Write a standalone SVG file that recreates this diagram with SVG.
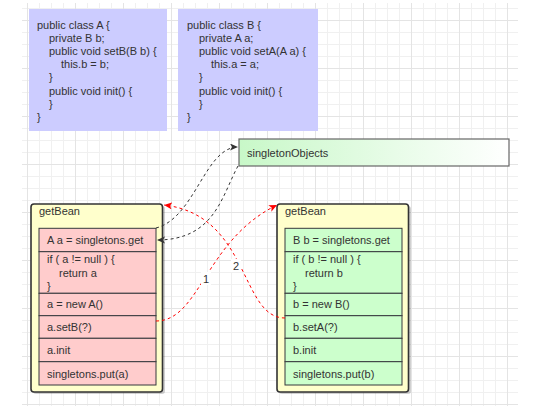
<svg xmlns="http://www.w3.org/2000/svg" width="533" height="406" viewBox="0 0 533 406">
  <style>
    text { font-family: "Liberation Sans", Arial, sans-serif; font-size: 11px; fill: #333333; }
    .code { fill: #ccccff; }
    .outer { fill: #ffffcc; stroke: #333333; stroke-width: 1.6; }
    .shadow { fill: #000000; opacity: 0.18; }
    .rowA { fill: #ffcccc; stroke: #36393d; stroke-width: 1; }
    .rowB { fill: #ccffcc; stroke: #36393d; stroke-width: 1; }
    .dash-k { fill: none; stroke: #333333; stroke-width: 1; stroke-dasharray: 3 3; }
    .dash-r { fill: none; stroke: #ff0000; stroke-width: 1; stroke-dasharray: 3 3; }
    .lbl { font-size: 11px; fill: #333333; }
  </style>
  <defs>
    <pattern id="grid" patternUnits="userSpaceOnUse" x="27" y="20" width="48" height="48">
      <path d="M12.5,0 V48 M24.5,0 V48 M36.5,0 V48 M0,12.5 H48 M0,24.5 H48 M0,36.5 H48" stroke="#f0f0f0" stroke-width="1" fill="none"/>
      <path d="M0.5,0 V48 M0,0.5 H48" stroke="#e4e4e4" stroke-width="1" fill="none"/>
    </pattern>
    <linearGradient id="greenFade" x1="0" y1="0" x2="1" y2="0">
      <stop offset="0" stop-color="#c8f8c8"/>
      <stop offset="1" stop-color="#ffffff"/>
    </linearGradient>
    <marker id="arrowK" markerUnits="userSpaceOnUse" markerWidth="10" markerHeight="8" refX="8" refY="3.5" orient="auto">
      <path d="M0,0 L8,3.5 L0,7 L2,3.5 z" fill="#333333"/>
    </marker>
    <marker id="arrowR" markerUnits="userSpaceOnUse" markerWidth="10" markerHeight="8" refX="8" refY="3.5" orient="auto">
      <path d="M0,0 L8,3.5 L0,7 L2,3.5 z" fill="#ff0000"/>
    </marker>
  </defs>

  <!-- background grid -->
  <rect x="22" y="3" width="496" height="403" fill="url(#grid)"/>

  <!-- class A source -->
  <g id="classA">
    <rect class="code" x="29" y="9" width="138" height="122"/>
    <text x="37" y="29">public class A {</text>
    <text x="49" y="42.1">private B b;</text>
    <text x="49" y="55.2">public void setB(B b) {</text>
    <text x="61" y="68.3">this.b = b;</text>
    <text x="49" y="81.4">}</text>
    <text x="49" y="94.5">public void init() {</text>
    <text x="49" y="107.6">}</text>
    <text x="37" y="120.7">}</text>
  </g>

  <!-- class B source -->
  <g id="classB">
    <rect class="code" x="178" y="9" width="140" height="122"/>
    <text x="187" y="29">public class B {</text>
    <text x="199" y="42.1">private A a;</text>
    <text x="199" y="55.2">public void setA(A a) {</text>
    <text x="211" y="68.3">this.a = a;</text>
    <text x="199" y="81.4">}</text>
    <text x="199" y="94.5">public void init() {</text>
    <text x="199" y="107.6">}</text>
    <text x="187" y="120.7">}</text>
  </g>

  <!-- cache -->
  <g id="singletonObjects">
    <rect x="239" y="139" width="270" height="27" fill="url(#greenFade)" stroke="#666666" stroke-width="1.2"/>
    <text x="247" y="157">singletonObjects</text>
  </g>

  <!-- getBean for A -->
  <g id="getBeanA">
    <rect class="shadow" x="33" y="206" width="132" height="188" rx="3"/>
    <rect class="outer" x="31" y="204" width="131.5" height="188" rx="3"/>
    <text x="39" y="215">getBean</text>
    <rect class="rowA" x="39" y="228.3" width="117" height="23.4"/>
    <text x="47" y="244">A a = singletons.get</text>
    <rect class="rowA" x="39" y="251.7" width="117" height="41.6"/>
    <text x="47" y="263">if ( a != null ) {</text>
    <text x="59" y="277">return a</text>
    <text x="47" y="290">}</text>
    <rect class="rowA" x="39" y="293.3" width="117" height="22.4"/>
    <text x="47" y="308">a = new A()</text>
    <rect class="rowA" x="39" y="315.7" width="117" height="22.6"/>
    <text x="47" y="331">a.setB(?)</text>
    <rect class="rowA" x="39" y="338.3" width="117" height="23.4"/>
    <text x="47" y="354">a.init</text>
    <rect class="rowA" x="39" y="361.7" width="117" height="23.3"/>
    <text x="47" y="378">singletons.put(a)</text>
  </g>

  <!-- getBean for B -->
  <g id="getBeanB">
    <rect class="shadow" x="279" y="206" width="132" height="188" rx="3"/>
    <rect class="outer" x="277" y="204" width="131.5" height="188" rx="3"/>
    <text x="285" y="215">getBean</text>
    <rect class="rowB" x="285" y="228.3" width="117" height="23.4"/>
    <text x="293" y="244">B b = singletons.get</text>
    <rect class="rowB" x="285" y="251.7" width="117" height="41.6"/>
    <text x="293" y="263">if ( b != null ) {</text>
    <text x="305" y="277">return b</text>
    <text x="293" y="290">}</text>
    <rect class="rowB" x="285" y="293.3" width="117" height="22.4"/>
    <text x="293" y="308">b = new B()</text>
    <rect class="rowB" x="285" y="315.7" width="117" height="22.6"/>
    <text x="293" y="331">b.setA(?)</text>
    <rect class="rowB" x="285" y="338.3" width="117" height="23.4"/>
    <text x="293" y="354">b.init</text>
    <rect class="rowB" x="285" y="361.7" width="117" height="23.3"/>
    <text x="293" y="378">singletons.put(b)</text>
  </g>

  <!-- connectors -->
  <g id="connectors">
    <path class="dash-k" d="M156,228 C195,218 205,147 238,147" marker-end="url(#arrowK)"/>
    <path class="dash-k" d="M238,166 C222,195 215,240 157,240" marker-end="url(#arrowK)"/>
    <path class="dash-r" d="M156,321 C200,321 205,240 277,205" marker-end="url(#arrowR)"/>
    <path class="dash-r" d="M285,318 C240,318 250,215 164,205" marker-end="url(#arrowR)"/>
    <rect x="201" y="272" width="10" height="13" fill="#ffffff"/>
    <text class="lbl" x="206" y="283" text-anchor="middle">1</text>
    <rect x="231" y="259" width="10" height="13" fill="#ffffff"/>
    <text class="lbl" x="236" y="270" text-anchor="middle">2</text>
  </g>
</svg>
